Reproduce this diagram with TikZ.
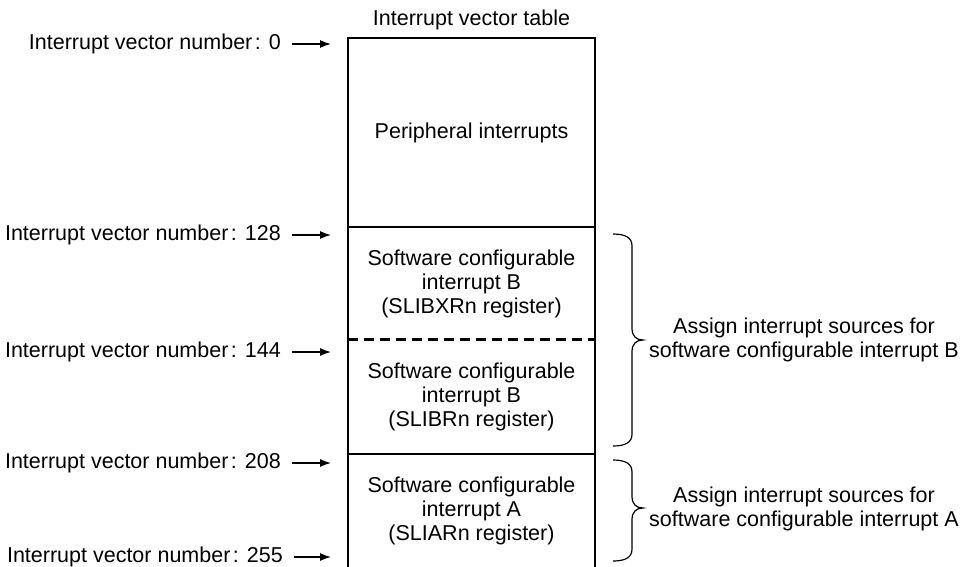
\documentclass[tikz,border=0pt]{standalone}
\usepackage{fontspec}
\setmainfont{Liberation Sans}
\usepackage{tikz}
\usetikzlibrary{arrows.meta}
\definecolor{ink} {RGB} {0, 0, 0}
\tikzstyle{vtab}=[
  x=1pt, y=-1pt, font=\fontsize{21.5}{24}\selectfont, >={Latex[length=11pt,width=8pt]}
]
\tikzstyle{vnum}=[anchor=east, inner sep=0pt]
\tikzstyle{sect}=[inner sep=0pt, minimum width=247pt, align=center]
\tikzstyle{brc}=[draw=ink, line width=1.2pt]
\newcommand{\sidebrace}[3]{%
  \draw[brc] (613,#1) .. controls (626,#1) and (632,#1+4) .. (632,#1+12)
    -- (632,#2-12) .. controls (632,#2-4) and (636,#2) .. (643,#2)
    .. controls (636,#2) and (632,#2+4) .. (632,#2+12)
    -- (632,#3-12) .. controls (632,#3-4) and (626,#3) .. (613,#3);}

\begin{document}
\begin{tikzpicture}[vtab]
      \useasboundingbox (0,0) rectangle (963,566);
      \node (title) at (471.5,20) {Interrupt vector table};
      \node[sect, minimum height=189pt] (perip) at (471.5,132.5) {Peripheral interrupts};
      \node[sect, minimum height=113pt] (slibx) at (471.5,283.5) {Software configurable\\interrupt B\\(SLIBXRn register)};
      \node[sect, minimum height=114pt] (slib) at (471.5,397) {Software configurable\\interrupt B\\(SLIBRn register)};
      \node[sect, minimum height=114pt] (slia) at (471.5,511) {Software configurable\\interrupt A\\(SLIARn register)};
      \draw[ink, line width=2.1pt] (perip.north west) rectangle (slia.south east);
      \draw[ink, line width=2.1pt] (slibx.north west) -- (slibx.north east);
      \draw[ink, line width=3pt, dash pattern=on 10pt off 6pt] (slib.north west) -- (slib.north east);
      \draw[ink, line width=2.1pt] (slia.north west) -- (slia.north east);
      \node[vnum] (v0) at (281,44) {Interrupt vector number\kern2.5pt: 0};
      \node[vnum] (v128) at (281,235) {Interrupt vector number\kern2.5pt: 128};
      \node[vnum] (v144) at (281,352) {Interrupt vector number\kern2.5pt: 144};
      \node[vnum] (v208) at (281,463) {Interrupt vector number\kern2.5pt: 208};
      \node[vnum] (v255) at (283,557) {Interrupt vector number\kern2.5pt: 255};
      \coordinate (t0) at (331,44);
      \coordinate (t128) at (331,235);
      \coordinate (t144) at (331,352);
      \coordinate (t208) at (331,463);
      \coordinate (t255) at (331,557);
      \foreach \n in {0,128,144,208,255}
        \draw[->, line width=1.3pt, shorten <=11pt] (v\n) -- (t\n);
      \sidebrace{234}{340}{446}
      \sidebrace{460}{508}{561}
      \node[align=center] (asgb) at (804,340) {Assign interrupt sources for\\software configurable interrupt B};
      \node[align=center] (asga) at (804,509) {Assign interrupt sources for\\software configurable interrupt A};
    \end{tikzpicture}
\end{document}
